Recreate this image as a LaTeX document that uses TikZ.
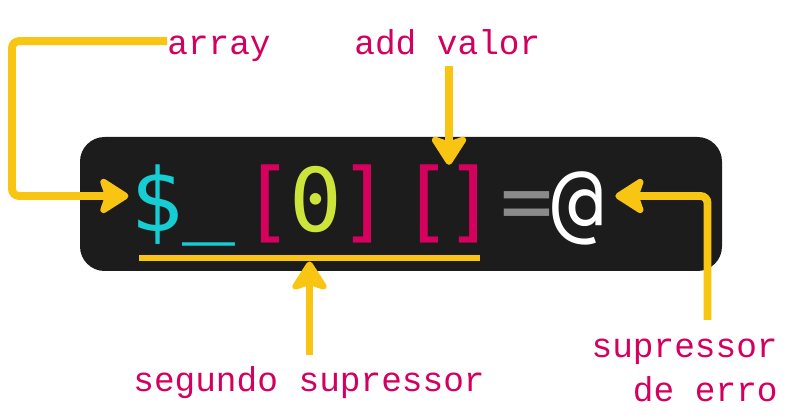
\documentclass[tikz,border=0pt]{standalone}
\usepackage{fontspec}
\setmonofont{Liberation Mono}
\newfontfamily\codefont{DejaVu Sans Mono}
\usetikzlibrary{arrows.meta}
\usetikzlibrary{calc}
\usetikzlibrary{positioning}
\definecolor{TermBlack}{HTML}{1C1C1C}
\definecolor{NoteYellow}{HTML}{F8C513}
\definecolor{NoteMagenta}{HTML}{D4005F}
\definecolor{CodeCyan}{HTML}{16CDD3}
\definecolor{CodeMagenta}{HTML}{D6005F}
\definecolor{CodeLime}{HTML}{CDE43A}
\definecolor{CodeGray}{HTML}{8A8A8A}
\tikzset{
  note/.style={font=\ttfamily\fontsize{19.6}{25}\selectfont, text=NoteMagenta, inner sep=0pt, text height=13pt, text depth=4pt},
  glyph/.style={font=\codefont\fontsize{50}{60}\selectfont, inner sep=0pt, anchor=base, text height=43pt, text depth=2pt},
  pointer/.style={draw=NoteYellow, line width=4.5pt, rounded corners=4pt, -{Stealth[length=19pt,width=24pt,inset=4pt,round]}},
}
\begin{document}
\begin{tikzpicture}[x=0.02cm, y=-0.02cm]
  \useasboundingbox (0,0) rectangle (789,418);
  % terminal box
  \fill[TermBlack, rounded corners=14pt] (80,137) rectangle (722,271);
  %
  % the line of code
  \node[glyph, text=CodeCyan] (dollar) at (157,232) {\$};
  \node[glyph, text=CodeCyan] (under) at (209,226) {\_};
  \node[glyph, text=CodeMagenta] (lbrA) at (268,232) {[};
  \node[glyph, text=CodeLime] (zero) at (316,232) {0};
  \node[glyph, text=CodeMagenta] (rbrA) at (365,232) {]};
  \node[glyph, text=CodeMagenta] (lbrB) at (427,232) {[};
  \node[glyph, text=CodeMagenta] (rbrB) at (471,232) {]};
  \node[glyph, text=CodeGray] (eq) at (527,232) {=};
  \node[glyph, text=white] (at) at (578,232) {@};
  %
  % notes
  \node[note, anchor=base west] (array) at (167,55) {array};
  \node[note, anchor=base west] (addvalor) at (354,55) {add valor};
  \node[note, anchor=base west] (segundo) at (133,392) {segundo supressor};
  \node[note, anchor=base east] (errA) at (778,358) {supressor};
  \node[note, anchor=base east] (errB) at ([yshift=-25pt]errA.base east) {de erro};
  %
  % underline of the second part
  \coordinate (ulA) at (139,258);
  \coordinate (ulB) at (480,258);
  \draw[NoteYellow, line width=3.4pt] (ulA) -- (ulB);
  \coordinate (ulmid) at ($(ulA)!.5!(ulB)$);
  \coordinate (slot) at ($(lbrB.north)!.5!(rbrB.north)$);
  %
  % pointers
  \draw[pointer] ([yshift=3.4pt]array.west) -- ++(-155,0) |- ([xshift=-1pt]dollar.west);
  \draw[pointer] ([yshift=-2pt]slot |- addvalor.south) -- ([yshift=-5pt]slot);
  \draw[pointer] ([yshift=8pt]ulmid |- segundo.north) -- ([yshift=-2pt]ulmid);
  \draw[pointer] ([xshift=13pt,yshift=8.5pt]errA.north) |- ([xshift=6pt]at.east);
\end{tikzpicture}
\end{document}
